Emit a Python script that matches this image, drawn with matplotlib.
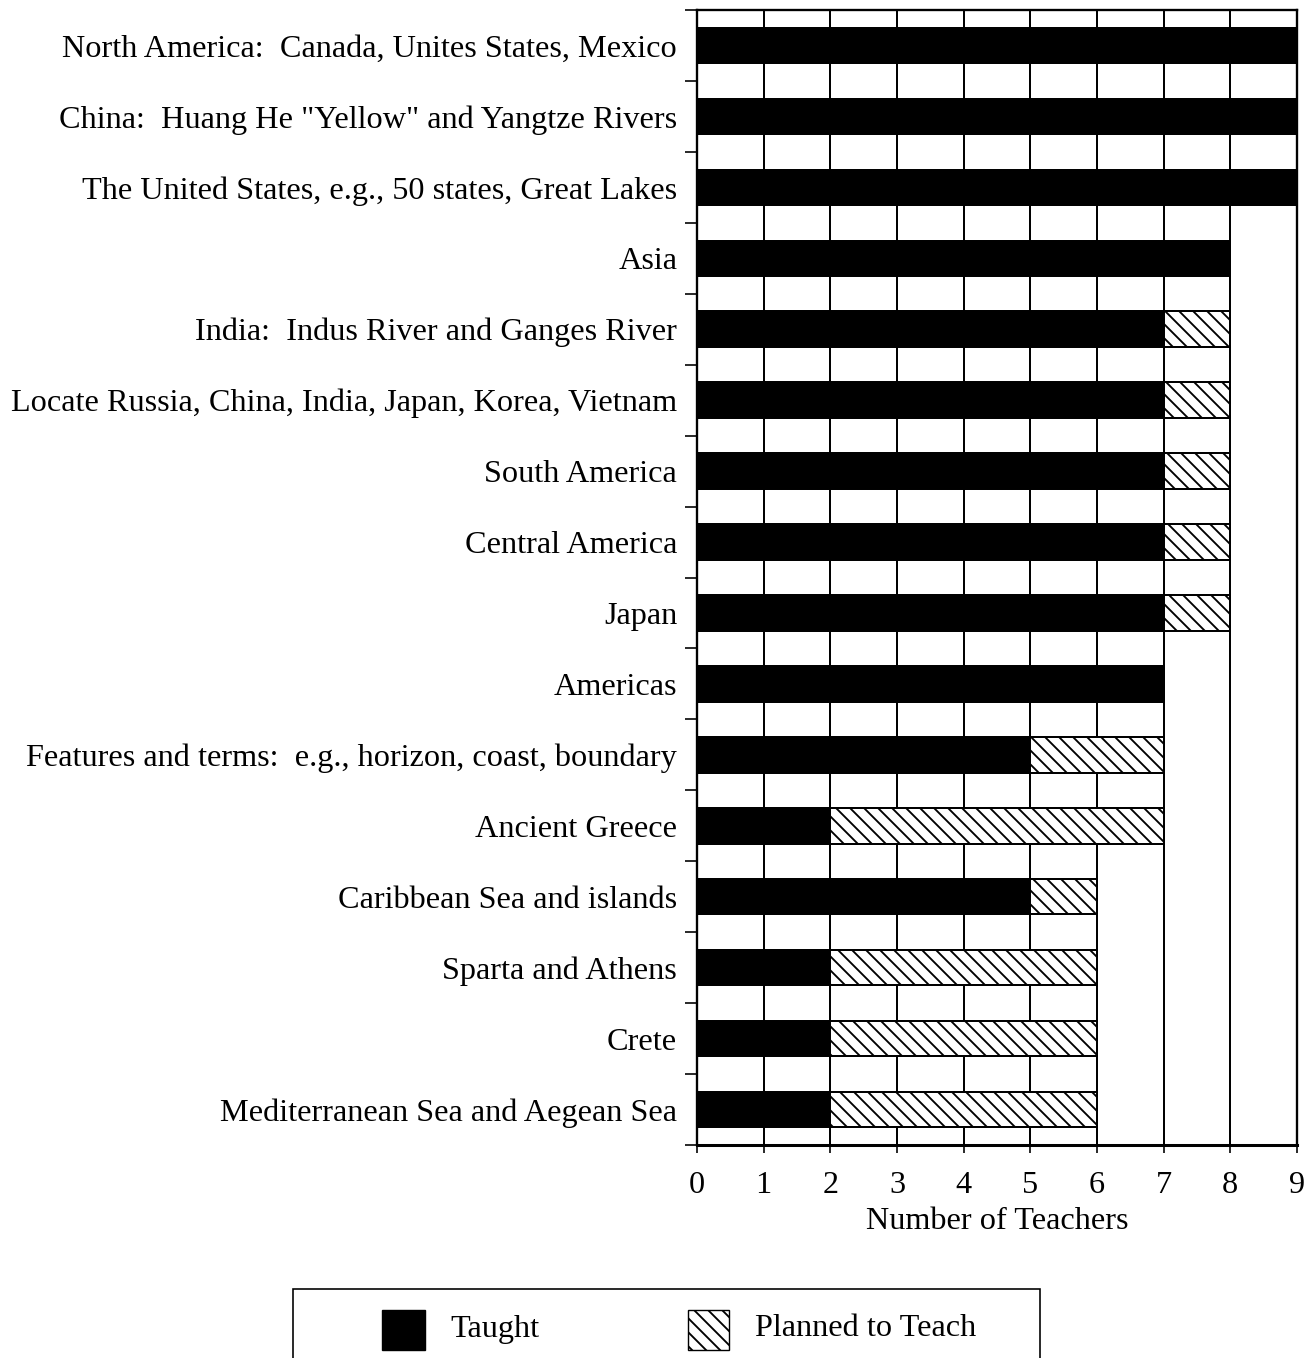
import matplotlib
matplotlib.use("Agg")
import matplotlib.pyplot as plt
from matplotlib.patches import Rectangle
import numpy as np

categories = [
    "North America:  Canada, Unites States, Mexico",
    "China:  Huang He \"Yellow\" and Yangtze Rivers",
    "The United States, e.g., 50 states, Great Lakes",
    "Asia",
    "India:  Indus River and Ganges River",
    "Locate Russia, China, India, Japan, Korea, Vietnam",
    "South America",
    "Central America",
    "Japan",
    "Americas",
    "Features and terms:  e.g., horizon, coast, boundary",
    "Ancient Greece",
    "Caribbean Sea and islands",
    "Sparta and Athens",
    "Crete",
    "Mediterranean Sea and Aegean Sea",
]
taught = [9, 9, 9, 8, 7, 7, 7, 7, 7, 7, 5, 2, 5, 2, 2, 2]
planned = [0, 0, 0, 0, 1, 1, 1, 1, 1, 0, 2, 5, 1, 4, 4, 4]
x_ticks = list(range(0, 10))
x_label = "Number of Teachers"
legend_labels = ["Taught", "Planned to Teach"]

DPI = 84
FW, FH = 1314, 1358
plt.rcParams['font.family'] = ['Liberation Serif', 'DejaVu Serif']
plt.rcParams['hatch.linewidth'] = 1.6
FS = 27.7

fig = plt.figure(figsize=(FW / DPI, FH / DPI), dpi=DPI)
fig.patch.set_facecolor('white')

def fx(px):
    return px / FW

def fy(py):
    return 1 - py / FH

ax_l, ax_r, ax_t, ax_b = 697, 1297, 10, 1145
ax = fig.add_axes([fx(ax_l), fy(ax_b), fx(ax_r - ax_l), (ax_b - ax_t) / FH])

y = np.arange(len(categories))
lw = 1.7
ax.barh(y, taught, height=0.5, color='black', edgecolor='black', linewidth=lw, zorder=2)
ax.barh(y, planned, left=taught, height=0.5, color='white', edgecolor='black',
        hatch='\\\\', linewidth=lw, zorder=2)

ax.set_xlim(0, 9)
ax.set_ylim(len(categories) - 0.5, -0.5)

ax.set_axisbelow(True)
ax.xaxis.grid(True, color='black', linewidth=lw)
ax.yaxis.grid(False)

ax.set_xticks(x_ticks)
ax.set_xticklabels([str(t) for t in x_ticks], fontsize=FS)
ax.tick_params(axis='x', which='major', direction='out', length=7, width=1.4, pad=15)

ax.set_yticks(y)
ax.set_yticklabels(categories, fontsize=FS, va='center_baseline')
ax.tick_params(axis='y', which='major', length=0, pad=17)
ax.set_yticks(np.arange(-0.5, len(categories), 1.0), minor=True)
ax.tick_params(axis='y', which='minor', direction='out', length=10, width=1.4)

for s in ax.spines.values():
    s.set_color('black')
    s.set_linewidth(2.0)
ax.spines['bottom'].set_linewidth(2.6)

ax.set_xlabel(x_label, fontsize=FS, labelpad=6.5)

# legend box (cut off at bottom like the reference)
frame = Rectangle((fx(293), fy(1400)), fx(1040 - 293), (1400 - 1289) / FH,
                  transform=fig.transFigure, facecolor='white', edgecolor='black',
                  linewidth=1.4, clip_on=False)
fig.add_artist(frame)
h1 = Rectangle((fx(382), fy(1350)), fx(425 - 382), 40 / FH, transform=fig.transFigure,
               facecolor='black', edgecolor='black', linewidth=1.2)
fig.add_artist(h1)
h2 = Rectangle((fx(688), fy(1350)), fx(729 - 688), 40 / FH, transform=fig.transFigure,
               facecolor='white', edgecolor='black', hatch='\\\\', linewidth=1.2)
fig.add_artist(h2)
fig.text(fx(450), fy(1329), legend_labels[0], fontsize=FS, va='center', ha='left')
fig.text(fx(755), fy(1329), legend_labels[1], fontsize=FS, va='center', ha='left')

fig.savefig("out.png", dpi=DPI, facecolor='white')
